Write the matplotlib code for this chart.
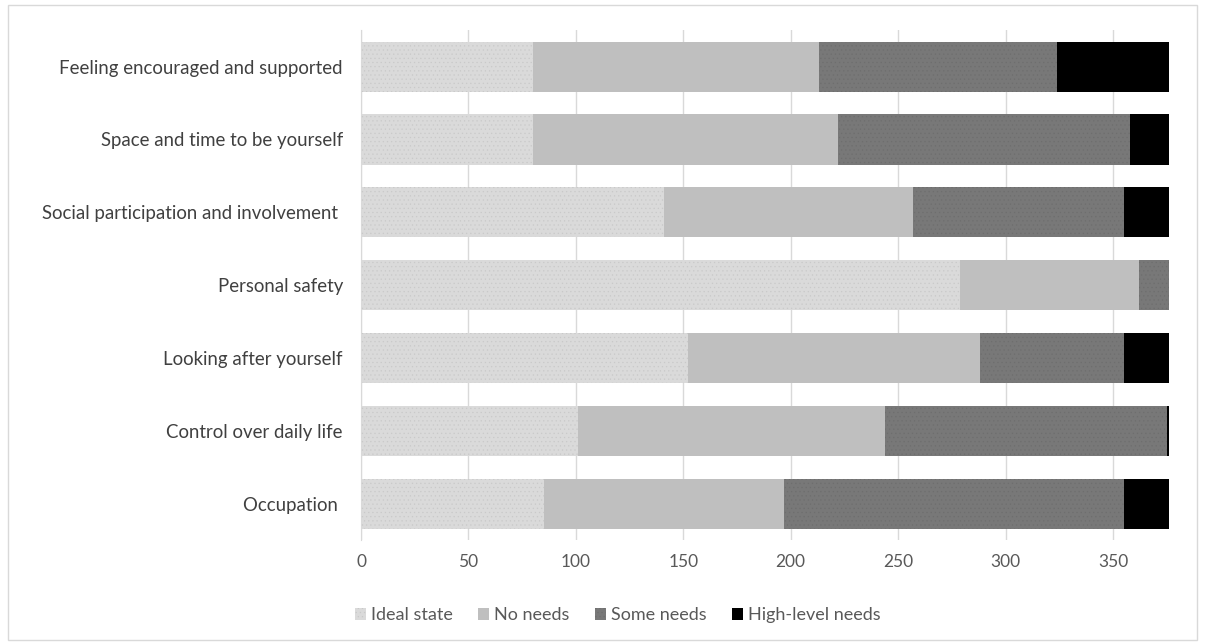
import matplotlib.pyplot as plt
import numpy as np
from matplotlib.patches import Rectangle

FONT = ["Lato", "DejaVu Sans"]
FONTSIZE = 12.5

categories = [
    "Occupation ",
    "Control over daily life",
    "Looking after yourself",
    "Personal safety",
    "Social participation and involvement ",
    "Space and time to be yourself",
    "Feeling encouraged and supported",
]
series_names = ["Ideal state", "No needs", "Some needs", "High-level needs"]
ideal_state = [85, 101, 152, 279, 141, 80, 80]
no_needs = [112, 143, 136, 83, 116, 142, 133]
some_needs = [158, 131, 67, 14, 98, 136, 111]
high_needs = [21, 1, 21, 0, 21, 18, 52]

colors = ["#dadada", "#bfbfbf", "#787878", "#000000"]
hatch_colors = ["#c9c9c9", "#bfbfbf", "#6e6e6e", "#000000"]
hatches = ["....", None, "....", None]


def main() -> None:
    plt.rcParams["font.family"] = FONT
    plt.rcParams["hatch.linewidth"] = 0.4

    fig = plt.figure(figsize=(12.05, 6.43), dpi=100)
    ax = fig.add_axes([0.2996, 0.160, 0.6704, 0.793])

    y = np.arange(len(categories))
    left = np.zeros(len(categories))
    for name, vals, col, hcol, hat in zip(
        series_names,
        [ideal_state, no_needs, some_needs, high_needs],
        colors,
        hatch_colors,
        hatches,
    ):
        ax.barh(
            y,
            vals,
            left=left,
            height=0.69,
            color=col,
            edgecolor=hcol,
            linewidth=0,
            hatch=hat,
            label=name,
            zorder=3,
        )
        left += np.array(vals)

    ax.set_xlim(0, 376)
    ax.set_ylim(-0.5, len(categories) - 0.5)
    ax.set_xticks(np.arange(0, 351, 50))
    ax.set_yticks(y)
    ax.set_yticklabels(categories, fontsize=13.4, color="#404040")
    ax.tick_params(axis="x", labelsize=FONTSIZE, labelcolor="#595959", length=0, pad=10)
    ax.tick_params(axis="y", length=0, pad=13)
    ax.grid(axis="x", color="#d9d9d9", linewidth=1, zorder=0)

    for side in ["top", "right", "bottom"]:
        ax.spines[side].set_visible(False)
    ax.spines["left"].set_color("#d9d9d9")

    leg = ax.legend(
        loc="upper center",
        bbox_to_anchor=(0.318, -0.1),
        ncol=4,
        frameon=False,
        fontsize=13,
        handlelength=0.6,
        handleheight=0.6,
        handletextpad=0.3,
        columnspacing=1.4,
    )
    for t in leg.get_texts():
        t.set_color("#595959")

    fig.patches.append(
        Rectangle(
            (0.007, 0.005),
            0.986,
            0.987,
            transform=fig.transFigure,
            fill=False,
            edgecolor="#d9d9d9",
            linewidth=1,
        )
    )

    fig.savefig("out.png", dpi=100)


if __name__ == "__main__":
    main()
